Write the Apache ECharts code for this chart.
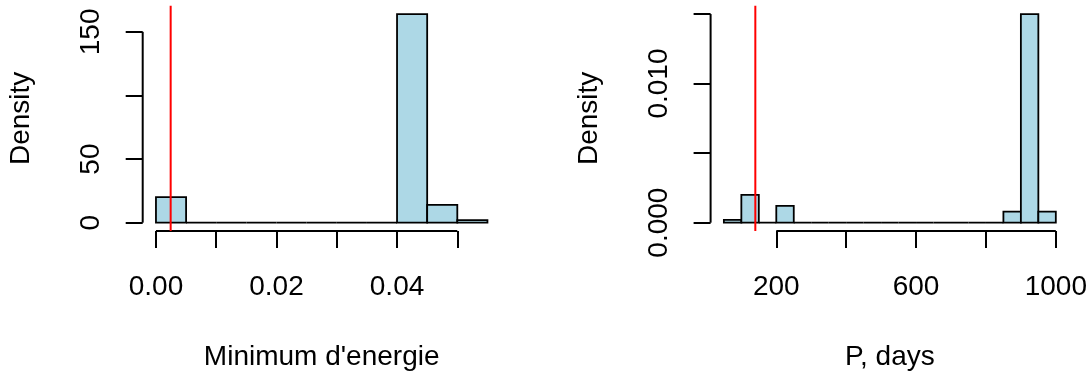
<!DOCTYPE html>
<html lang="en">
<head>
  <meta charset="UTF-8">
  <title>Histograms</title>
  <script src="https://cdn.jsdelivr.net/npm/echarts@6/dist/echarts.min.js"></script>
  <style>
    html, body { margin: 0; padding: 0; background: #fff; }
    #wrap { width: 1092px; height: 376px; }
  </style>
</head>
<body>
<div id="wrap"></div>

<script>
  // left panel: minimum d'energie
  const energyBreaks = [0, 0.005, 0.01, 0.015, 0.02, 0.025, 0.03, 0.035, 0.04, 0.045, 0.05, 0.055]
  const energyDensity = [20, 0, 0, 0, 0, 0, 0, 0, 164, 14, 2]
  const energyXTicks = [0, 0.01, 0.02, 0.03, 0.04, 0.05]
  const energyXLabels = [0, 0.02, 0.04]
  const energyYTicks = [0, 50, 100, 150]
  const energyYLabels = [0, 50, 150]
  const energyMark = 0.00244

  // right panel: P, days
  const periodBreaks = [50, 100, 150, 200, 250, 300, 350, 400, 450, 500, 550, 600, 650, 700, 750, 800, 850, 900, 950, 1000]
  const periodDensity = [0.0002, 0.002, 0, 0.0012, 0, 0, 0, 0, 0, 0, 0, 0, 0, 0, 0, 0, 0.0008, 0.015, 0.0008]
  const periodXTicks = [200, 400, 600, 800, 1000]
  const periodXLabels = [200, 600, 1000]
  const periodYTicks = [0, 0.005, 0.01, 0.015]
  const periodYLabels = [0, 0.01]
  const periodMark = 140

  const font = 'Liberation Sans, Arial, Helvetica, sans-serif'
  const fs = 28

  // R style: axis range is data range plus 4% on each side
  function ext(lo, hi) {
    const d = (hi - lo) * 0.04
    return [lo - d, hi + d]
  }

  const panels = [
    {
      breaks: energyBreaks, density: energyDensity, xTicks: energyXTicks, xLabels: energyXLabels,
      yTicks: energyYTicks, yLabels: energyYLabels, mark: energyMark,
      xName: "Minimum d'energie", xFmt: v => v.toFixed(2), yFmt: v => String(v),
      grid: { left: 142.7, top: 5.7, width: 358, height: 226.7 }
    },
    {
      breaks: periodBreaks, density: periodDensity, xTicks: periodXTicks, xLabels: periodXLabels,
      yTicks: periodYTicks, yLabels: periodYLabels, mark: periodMark,
      xName: 'P, days', xFmt: v => String(v), yFmt: v => v.toFixed(3),
      grid: { left: 710.6, top: 5.7, width: 358.5, height: 226.7 }
    }
  ]

  const grids = [], xAxes = [], yAxes = [], series = []

  panels.forEach((p, i) => {
    const xr = ext(p.breaks[0], p.breaks[p.breaks.length - 1])
    const yr = ext(0, Math.max(...p.density))
    grids.push(p.grid)

    xAxes.push({
      gridIndex: i, type: 'value', min: xr[0], max: xr[1],
      axisLine: { show: false, onZero: false },
      splitLine: { show: false },
      axisTick: { show: true, inside: false, length: 17, customValues: p.xTicks, lineStyle: { color: '#000', width: 2 } },
      axisLabel: { customValues: p.xLabels, formatter: p.xFmt, margin: 42, color: '#000', fontSize: fs, fontFamily: font },
      name: p.xName, nameLocation: 'middle', nameGap: 112,
      nameTextStyle: { color: '#000', fontSize: fs, fontFamily: font }
    })

    yAxes.push({
      gridIndex: i, type: 'value', min: yr[0], max: yr[1],
      axisLine: { show: false, onZero: false },
      splitLine: { show: false },
      axisTick: { show: true, inside: false, length: 17, customValues: p.yTicks, lineStyle: { color: '#000', width: 2 } },
      axisLabel: { customValues: p.yLabels, formatter: p.yFmt, rotate: 90, margin: 37, color: '#000', fontSize: fs, fontFamily: font },
      name: 'Density', nameLocation: 'middle', nameRotate: 90, nameGap: 107,
      nameTextStyle: { color: '#000', fontSize: fs, fontFamily: font }
    })

    // histogram bars
    series.push({
      type: 'custom',
      xAxisIndex: i, yAxisIndex: i,
      data: p.density.map((d, k) => [p.breaks[k], p.breaks[k + 1], d]),
      encode: { x: [0, 1], y: 2 },
      clip: false,
      renderItem: (params, api) => {
        const p0 = api.coord([api.value(0), 0])
        const p1 = api.coord([api.value(1), api.value(2)])
        return {
          type: 'rect',
          shape: { x: p0[0], y: p1[1], width: p1[0] - p0[0], height: p0[1] - p1[1] },
          style: { fill: '#add8e6', stroke: '#000', lineWidth: 1.8 }
        }
      }
    })

    // axis lines only over the tick range, like R's axis()
    series.push({
      type: 'custom',
      xAxisIndex: i, yAxisIndex: i,
      data: [0],
      clip: false,
      silent: true,
      renderItem: (params, api) => {
        const a = api.coord([p.xTicks[0], yr[0]])
        const b = api.coord([p.xTicks[p.xTicks.length - 1], yr[0]])
        const c = api.coord([xr[0], p.yTicks[0]])
        const d = api.coord([xr[0], p.yTicks[p.yTicks.length - 1]])
        const st = { stroke: '#000', lineWidth: 2 }
        return {
          type: 'group',
          children: [
            { type: 'line', shape: { x1: a[0], y1: a[1], x2: b[0], y2: b[1] }, style: st },
            { type: 'line', shape: { x1: c[0], y1: c[1], x2: d[0], y2: d[1] }, style: st }
          ]
        }
      }
    })

    // red reference line across the plot region
    series.push({
      type: 'line',
      xAxisIndex: i, yAxisIndex: i,
      data: [[p.mark, yr[0]], [p.mark, yr[1]]],
      symbol: 'none',
      lineStyle: { color: '#ff0000', width: 2 },
      z: 5
    })
  })

  const chart = echarts.init(document.querySelector('#wrap'))
  chart.setOption({
    animation: false,
    grid: grids,
    xAxis: xAxes,
    yAxis: yAxes,
    series: series
  })
</script>
</body>
</html>
